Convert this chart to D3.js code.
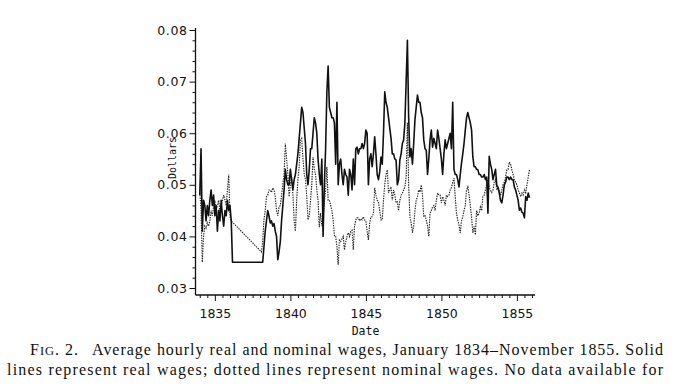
<!DOCTYPE html>
<html>
<head>
<meta charset="utf-8">
<script src="https://cdn.jsdelivr.net/npm/d3@7"></script>
<style>
  html, body { margin: 0; padding: 0; background: #fff; }
  svg { display: block; }
  .tick text { font-family: "DejaVu Sans", sans-serif; font-size: 12.5px; fill: #111; }
  .axis path, .axis line { stroke: #111; }
  .atitle { font-family: "DejaVu Sans Mono", monospace; font-size: 11.5px; fill: #111; }
  .ytitle { font-family: "DejaVu Sans Mono", monospace; font-size: 10px; fill: #111; }
  .cap { font-family: "Liberation Serif", "Times New Roman", serif; font-size: 16px; fill: #111; }
</style>
</head>
<body>
<svg id="chart" width="678" height="390"></svg>
<script>
// ---- data: monthly, January 1834 – November 1855 (null = no data) ----
const startYear = 1834;
const real = [
0.048,0.057,0.041,0.047,0.046,0.043,0.046,0.044,0.047,0.049,
0.046,0.048,0.044,0.046,0.041,0.045,0.043,0.047,0.044,0.042,
0.045,0.044,0.047,0.045,0.046,0.043,0.035,
null,null,null,null,null,null,null,null,null,null,null,null,null,null,null,null,null,null,null,null,null,null,null,
0.035,0.038,0.041,0.043,0.045,0.044,0.0426,0.043,0.042,0.0425,
0.041,0.040,0.0355,0.037,0.039,0.043,0.046,0.049,0.053,0.051,
0.050,0.050,0.053,0.051,0.049,0.051,0.052,0.054,0.056,0.059,
0.062,0.065,0.064,0.061,0.058,0.052,0.050,0.053,0.057,0.057,
0.060,0.063,0.062,0.060,0.055,0.052,0.050,0.055,0.040,0.050,
0.057,0.068,0.073,0.065,0.064,0.063,0.063,0.062,0.054,0.066,
0.050,0.054,0.055,0.052,0.050,0.053,0.052,0.0515,0.048,0.053,
0.052,0.049,0.055,0.050,0.057,0.0573,0.056,0.057,0.057,0.058,
0.057,0.058,0.0606,0.060,0.050,0.055,0.056,0.0535,0.056,0.0593,
0.056,0.052,0.051,0.0525,0.0554,0.054,0.060,0.068,0.066,0.065,
0.063,0.061,0.059,0.056,0.056,0.055,0.0548,0.050,0.051,0.0548,
0.056,0.058,0.0587,0.062,0.070,0.078,0.063,0.0554,0.057,0.054,
0.058,0.0626,0.065,0.0674,0.066,0.066,0.064,0.063,0.0587,0.057,
0.0567,0.052,0.055,0.0587,0.0606,0.0573,0.059,0.058,0.057,0.0606,
0.059,0.057,0.055,0.052,0.056,0.0587,0.057,0.058,0.059,0.060,
0.057,0.066,0.053,0.052,0.052,0.051,0.0496,0.052,0.0542,0.056,
0.058,0.0606,0.063,0.064,0.063,0.062,0.0606,0.0554,0.0535,0.0535,
0.053,0.0529,0.052,0.052,0.0515,0.0515,0.052,0.051,0.0515,0.0445,
0.0555,0.054,0.053,0.051,0.052,0.053,0.050,0.0495,0.0484,0.047,
0.0465,0.048,0.050,0.0505,0.0515,0.0515,0.051,0.0515,0.051,0.051,
0.0496,0.049,0.048,0.047,0.0451,0.0455,0.0447,0.0445,0.0436,0.0477,
0.047,0.0484,0.0475
];
const nominal = [
0.049,0.045,0.035,0.040,0.042,0.0416,0.0426,0.042,0.043,0.045,
0.044,0.046,0.047,0.045,0.046,0.047,0.045,0.046,0.047,0.048,
0.047,0.046,0.049,0.052,0.0438,0.043,
null,null,null,null,null,null,null,null,null,null,null,null,null,null,null,null,null,null,null,null,null,null,null,
0.037,
0.039,0.0432,0.045,0.0477,0.048,0.049,0.049,0.0485,0.0494,0.049,
0.0477,0.045,0.044,0.0457,0.046,0.048,0.050,0.052,0.058,0.055,
0.052,0.0477,0.050,0.0516,0.048,0.043,0.041,0.047,0.051,0.0535,
0.0587,0.059,0.055,0.052,0.051,0.0477,0.0432,0.044,0.047,0.050,
0.0554,0.053,0.052,0.049,0.047,0.0418,0.0445,0.042,0.0438,0.0465,
0.049,0.0535,0.047,0.047,0.046,0.045,0.0432,0.040,0.040,0.038,
0.0345,0.0393,0.039,0.0395,0.040,0.0374,0.039,0.040,0.0407,0.040,
0.041,0.0412,0.0374,0.042,0.0432,0.0436,0.0436,0.043,0.0434,0.0432,
0.0438,0.0432,0.043,0.041,0.0393,0.0425,0.0438,0.0438,0.0445,0.0494,
0.048,0.047,0.0467,0.045,0.0432,0.0432,0.047,0.050,0.052,0.0529,
0.0484,0.049,0.0496,0.047,0.049,0.048,0.0465,0.0467,0.045,0.047,
0.048,0.0484,0.049,0.0496,0.0516,0.062,0.050,0.0438,0.0426,0.0407,
0.042,0.045,0.047,0.0477,0.049,0.0486,0.050,0.048,0.0438,0.044,
0.0432,0.042,0.040,0.0445,0.045,0.0457,0.046,0.045,0.047,0.0484,
0.048,0.048,0.0465,0.0477,0.047,0.046,0.048,0.0477,0.048,0.049,
0.0495,0.0505,0.0513,0.0477,0.0445,0.0432,0.0422,0.0407,0.043,0.0438,
0.045,0.046,0.049,0.0496,0.048,0.046,0.0438,0.0407,0.042,0.0403,
0.045,0.044,0.0445,0.0457,0.045,0.0477,0.048,0.049,0.050,0.051,
0.0496,0.049,0.0485,0.049,0.0505,0.051,0.049,0.0495,0.049,0.048,
0.049,0.050,0.0505,0.0515,0.0529,0.053,0.0544,0.054,0.0529,0.052,
0.051,0.0505,0.050,0.049,0.0484,0.0477,0.0484,0.048,0.049,0.0485,
0.050,0.0515,0.0529
];
const yearTicks = [1835, 1840, 1845, 1850, 1855];
const dollarTicks = [0.03, 0.04, 0.05, 0.06, 0.07, 0.08];
const xTitle = "Date";
const yTitle = "Dollars";
const captionLines = [
  ["F", "IG", ". 2.\u2002 Average hourly real and nominal wages, January 1834\u2013November 1855. Solid"],
  ["", "", "lines represent real wages; dotted lines represent nominal wages. No data available for"]
];

// ---- drawing ----
const svg = d3.select("#chart");
const x = d3.scaleLinear().domain([1833.75, 1856.2]).range([196, 535]);
const y = d3.scaleLinear().domain([0.03, 0.08]).range([288, 30]);
const axisY = 295;   // x-axis baseline
const axisX = 195.5; // y-axis position

const toPts = arr => arr.map((v, i) => ({ t: startYear + i / 12, v }))
                        .filter(d => d.v !== null);

const line = d3.line().x(d => x(d.t)).y(d => y(d.v));

// nominal (dotted)
svg.append("path").datum(toPts(nominal))
  .attr("d", line).attr("fill", "none")
  .attr("stroke", "#222").attr("stroke-width", 1.15)
  .attr("stroke-dasharray", "1.4,1.1");

// real (solid)
svg.append("path").datum(toPts(real))
  .attr("d", line).attr("fill", "none")
  .attr("stroke", "#111").attr("stroke-width", 1.6)
  .attr("stroke-linejoin", "round");

// x axis: minor ticks every half year, major at 5 years
const minorYears = d3.range(1834, 1856.01, 0.5).filter(t => !yearTicks.includes(t));
const gx = svg.append("g").attr("class", "axis").attr("transform", `translate(0,${axisY})`);
gx.append("g").call(d3.axisBottom(x).tickValues(minorYears).tickFormat("").tickSize(3).tickSizeOuter(0))
  .select(".domain").remove();
gx.append("g").call(d3.axisBottom(x).tickValues(yearTicks).tickFormat(d3.format("d")).tickSize(6).tickPadding(8).tickSizeOuter(0))
  .select(".domain").remove();
gx.append("line").attr("x1", axisX).attr("x2", x.range()[1]).attr("y1", 0).attr("y2", 0)
  .attr("stroke", "#111").attr("stroke-width", 1.3);

// y axis: minor ticks every 0.002, major every 0.01
const minorDollars = d3.range(0, 26).map(k => 0.03 + k * 0.002)
  .filter(v => !dollarTicks.some(t => Math.abs(t - v) < 1e-9));
const gy = svg.append("g").attr("class", "axis").attr("transform", `translate(${axisX},0)`);
gy.append("g").call(d3.axisLeft(y).tickValues(minorDollars).tickFormat("").tickSize(3).tickSizeOuter(0))
  .select(".domain").remove();
gy.append("g").call(d3.axisLeft(y).tickValues(dollarTicks).tickFormat(d3.format(".2f")).tickSize(6).tickPadding(2).tickSizeOuter(0))
  .select(".domain").remove();
gy.selectAll("text").attr("letter-spacing", "0.6");
gy.append("line").attr("x1", 0).attr("x2", 0).attr("y1", y.range()[1] - 2).attr("y2", axisY)
  .attr("stroke", "#111").attr("stroke-width", 1.3);

// axis titles
svg.append("text").attr("class", "atitle")
  .attr("x", (x.range()[0] + x.range()[1]) / 2).attr("y", 335)
  .attr("text-anchor", "middle").text(xTitle);
svg.append("text").attr("class", "ytitle")
  .attr("transform", "translate(176,158) rotate(-90)")
  .attr("text-anchor", "middle").text(yTitle);

// caption
const capLayout = [{ x: 30, y: 355, w: 633 }, { x: 7, y: 375, w: 656 }];
captionLines.forEach((parts, k) => {
  const L = capLayout[k];
  const t = svg.append("text").attr("class", "cap")
    .attr("x", L.x).attr("y", L.y)
    .attr("textLength", L.w).attr("lengthAdjust", "spacing");
  if (parts[0]) t.append("tspan").text(parts[0]);
  if (parts[1]) t.append("tspan").style("font-size", "12.5px").text(parts[1]);
  t.append("tspan").text(parts[2]);
});
</script>
</body>
</html>
